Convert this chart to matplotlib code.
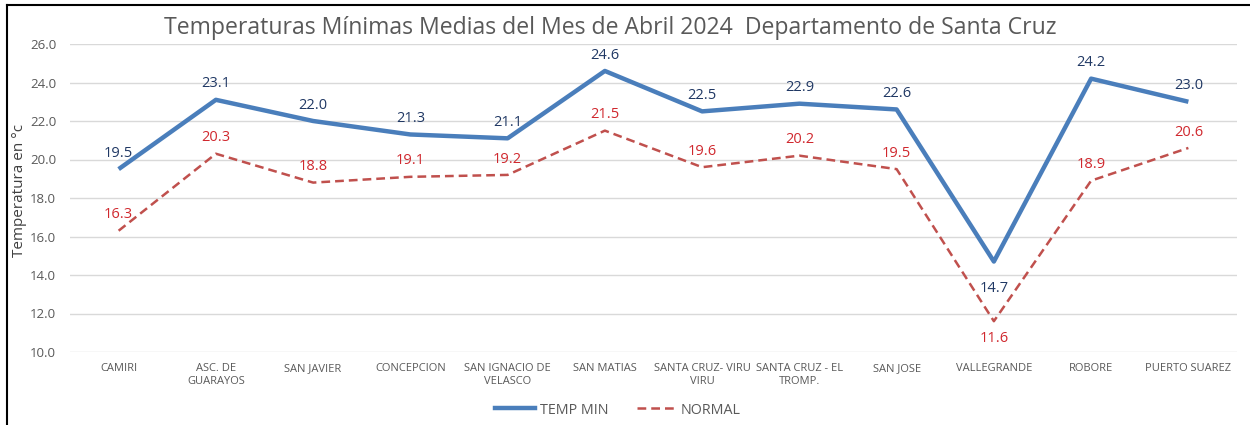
import matplotlib
matplotlib.use("Agg")
import matplotlib.pyplot as plt
from matplotlib.lines import Line2D

categories = ["CAMIRI", "ASC. DE\nGUARAYOS", "SAN JAVIER", "CONCEPCION", "SAN IGNACIO DE\nVELASCO",
              "SAN MATIAS", "SANTA CRUZ- VIRU\nVIRU", "SANTA CRUZ - EL\nTROMP.", "SAN JOSE",
              "VALLEGRANDE", "ROBORE", "PUERTO SUAREZ"]
temp_min = [19.5, 23.1, 22.0, 21.3, 21.1, 24.6, 22.5, 22.9, 22.6, 14.7, 24.2, 23.0]
normal = [16.3, 20.3, 18.8, 19.1, 19.2, 21.5, 19.6, 20.2, 19.5, 11.6, 18.9, 20.6]
yticks = [10, 12, 14, 16, 18, 20, 22, 24, 26]

plt.rcParams['font.family'] = ['Open Sans', 'DejaVu Sans']

fig = plt.figure(figsize=(12.5, 4.25), dpi=100)
ax = fig.add_axes([70/1250, 1-352/425, (1237-70)/1250, (352-44)/425])

x = list(range(len(categories)))
blue = "#4a7ebb"
red = "#c0504d"
ax.plot(x, temp_min, color=blue, lw=3.2, solid_capstyle='butt', zorder=3)
ax.plot(x, normal, color=red, lw=1.8, linestyle=(0, (3.5, 2)), zorder=3)

for i, (t, n) in enumerate(zip(temp_min, normal)):
    if categories[i] == "VALLEGRANDE":
        ax.annotate(f"{t:.1f}", (i, t), xytext=(0, -14), textcoords="offset points",
                    ha='center', va='top', color="#203864", fontsize=10.5)
        ax.annotate(f"{n:.1f}", (i, n), xytext=(0, -7), textcoords="offset points",
                    ha='center', va='top', color="#d0282e", fontsize=10.5)
    else:
        ax.annotate(f"{t:.1f}", (i, t), xytext=(0, 6), textcoords="offset points",
                    ha='center', va='bottom', color="#203864", fontsize=10.5)
        ax.annotate(f"{n:.1f}", (i, n), xytext=(0, 6), textcoords="offset points",
                    ha='center', va='bottom', color="#d0282e", fontsize=10.5)

ax.set_xlim(-0.5, len(categories) - 0.5)
ax.set_ylim(10, 26)
ax.set_yticks(yticks)
ax.set_yticklabels([f"{v:.1f}" for v in yticks], fontsize=9.5, color="#595959")
ax.set_xticks(x)
ax.set_xticklabels(categories, fontsize=8, color="#595959", linespacing=1.25)
ax.tick_params(length=0, pad=8)
ax.tick_params(axis='y', pad=10)
ax.grid(axis='y', color="#d9d9d9", lw=1)
ax.set_axisbelow(True)
for s in ax.spines.values():
    s.set_visible(False)

fig.text(20/1250, 1-190/425, "Temperatura en °c", rotation=90, ha='center', va='center',
         fontsize=11, color="#404040")

fig.text(610/1250, 1-28/425, "Temperaturas Mínimas Medias del Mes de Abril 2024  Departamento de Santa Cruz",
         ha='center', va='center', fontsize=16.6, color="#595959")

handles = [Line2D([], [], color=blue, lw=3.2), Line2D([], [], color=red, lw=1.8, linestyle=(0, (3.5, 2)))]
fig.legend(handles, ["TEMP MIN", "NORMAL"], loc='center', bbox_to_anchor=(618/1250, 1-410/425),
           ncol=2, frameon=False, fontsize=10.3, labelcolor="#595959", handlelength=2.8,
           columnspacing=2.0, handletextpad=0.3)

# border
fig.add_artist(Line2D([7/1250, 7/1250], [0, 1-5/425], color='black', lw=1.5, transform=fig.transFigure))
fig.add_artist(Line2D([7/1250, 1], [1-5/425, 1-5/425], color='black', lw=1.5, transform=fig.transFigure))

fig.savefig("out.png", dpi=100)
